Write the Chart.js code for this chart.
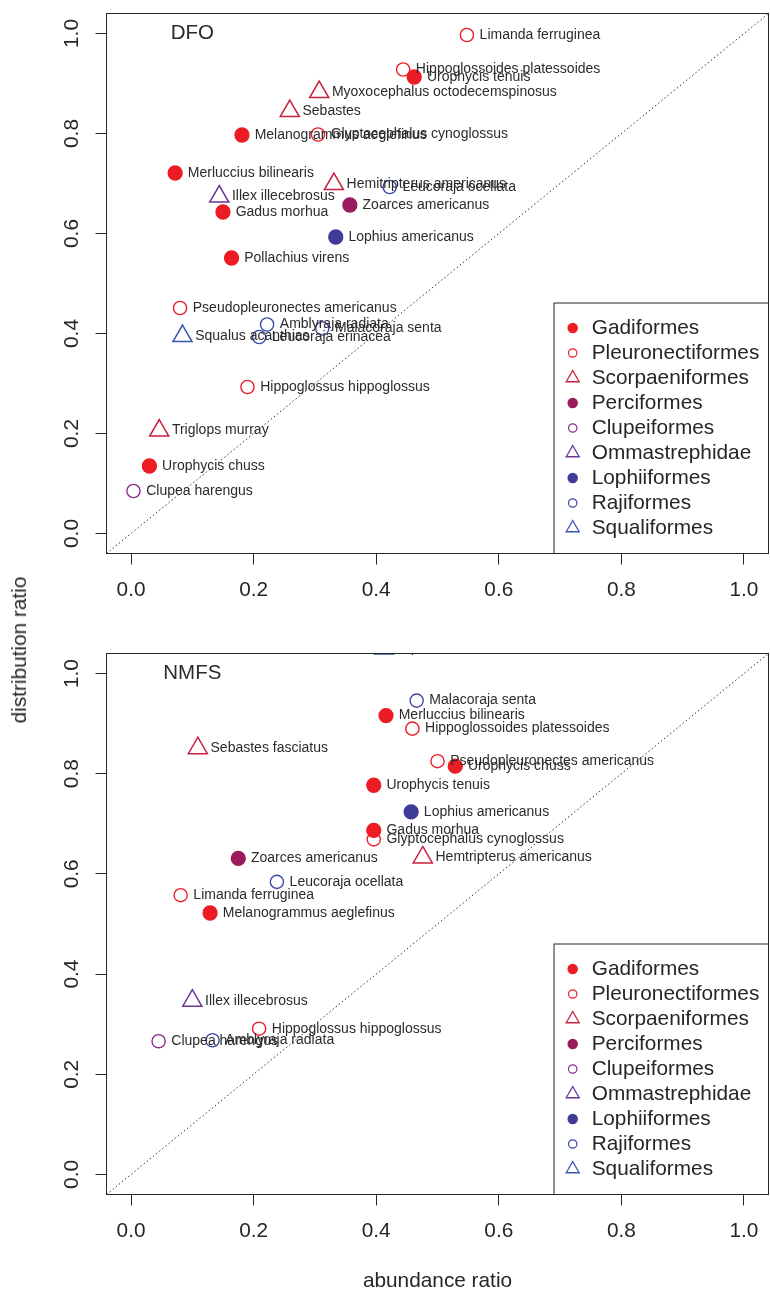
<!DOCTYPE html>
<html>
<head>
<meta charset="utf-8">
<script src="https://cdn.jsdelivr.net/npm/chart.js@4.4.1/dist/chart.umd.min.js"></script>
<style>
html, body { margin: 0; padding: 0; background: #fff; }
#wrap { position: relative; width: 770px; height: 1292px; overflow: hidden;
        font-family: "Liberation Sans", Arial, Helvetica, sans-serif; color: #262626; }
canvas { position: absolute; left: 0; }
#c1 { top: 0; }
#c2 { top: 646px; }
.ylab { position: absolute; left: 19px; top: 650px; transform: translate(-50%, -50%) rotate(-90deg);
        font-size: 20.8px; white-space: nowrap; }
.xlab { position: absolute; left: 437.5px; top: 1280px; transform: translate(-50%, -50%);
        font-size: 20.8px; white-space: nowrap; }
</style>
</head>
<body>
<div id="wrap">
  <canvas id="c1" width="770" height="646"></canvas>
  <canvas id="c2" width="770" height="646"></canvas>
  <div class="ylab">distribution ratio</div>
  <div class="xlab">abundance ratio</div>
</div>
<script>
// ---- taxonomic orders ----
const orders = ['Gadiformes', 'Pleuronectiformes', 'Scorpaeniformes', 'Perciformes', 'Clupeiformes',
                'Ommastrephidae', 'Lophiiformes', 'Rajiformes', 'Squaliformes'];

// ---- axes ----
const axisLimits = [-0.04, 1.04];
const tickValues = [0.0, 0.2, 0.4, 0.6, 0.8, 1.0];

// ---- DFO survey ----
const dfoSpecies = ['Limanda ferruginea', 'Hippoglossoides platessoides', 'Urophycis tenuis',
  'Myoxocephalus octodecemspinosus', 'Sebastes', 'Melanogrammus aeglefinus', 'Glyptocephalus cynoglossus',
  'Merluccius bilinearis', 'Hemitripterus americanus', 'Leucoraja ocellata', 'Illex illecebrosus',
  'Zoarces americanus', 'Gadus morhua', 'Lophius americanus', 'Pollachius virens',
  'Pseudopleuronectes americanus', 'Amblyraja radiata', 'Malacoraja senta', 'Squalus acanthias',
  'Leucoraja erinacea', 'Hippoglossus hippoglossus', 'Triglops murray', 'Urophycis chuss', 'Clupea harengus'];
const dfoOrder = ['Pleuronectiformes', 'Pleuronectiformes', 'Gadiformes', 'Scorpaeniformes', 'Scorpaeniformes',
  'Gadiformes', 'Pleuronectiformes', 'Gadiformes', 'Scorpaeniformes', 'Rajiformes', 'Ommastrephidae',
  'Perciformes', 'Gadiformes', 'Lophiiformes', 'Gadiformes', 'Pleuronectiformes', 'Rajiformes', 'Rajiformes',
  'Squaliformes', 'Rajiformes', 'Pleuronectiformes', 'Scorpaeniformes', 'Gadiformes', 'Clupeiformes'];
const dfoAbundance = [0.548, 0.444, 0.462, 0.307, 0.259, 0.181, 0.305, 0.072, 0.331, 0.422, 0.144,
  0.357, 0.150, 0.334, 0.164, 0.080, 0.222, 0.312, 0.084, 0.209, 0.190, 0.046, 0.030, 0.004];
const dfoDistribution = [0.997, 0.928, 0.913, 0.883, 0.845, 0.797, 0.798, 0.721, 0.699, 0.693, 0.674,
  0.657, 0.643, 0.593, 0.551, 0.451, 0.418, 0.410, 0.395, 0.393, 0.293, 0.206, 0.135, 0.085];

// ---- NMFS survey ----
const nmfsSpecies = ['Squalus acanthias', 'Malacoraja senta', 'Merluccius bilinearis',
  'Hippoglossoides platessoides', 'Sebastes fasciatus', 'Pseudopleuronectes americanus', 'Urophycis chuss',
  'Urophycis tenuis', 'Lophius americanus', 'Gadus morhua', 'Glyptocephalus cynoglossus',
  'Hemtripterus americanus', 'Zoarces americanus', 'Leucoraja ocellata', 'Limanda ferruginea',
  'Melanogrammus aeglefinus', 'Illex illecebrosus', 'Hippoglossus hippoglossus', 'Amblyraja radiata',
  'Clupea harengus'];
const nmfsOrder = ['Squaliformes', 'Rajiformes', 'Gadiformes', 'Pleuronectiformes', 'Scorpaeniformes',
  'Pleuronectiformes', 'Gadiformes', 'Gadiformes', 'Lophiiformes', 'Gadiformes', 'Pleuronectiformes',
  'Scorpaeniformes', 'Perciformes', 'Rajiformes', 'Pleuronectiformes', 'Gadiformes', 'Ommastrephidae',
  'Pleuronectiformes', 'Rajiformes', 'Clupeiformes'];
const nmfsAbundance = [0.413, 0.466, 0.416, 0.459, 0.109, 0.500, 0.529, 0.396, 0.457, 0.396, 0.396,
  0.476, 0.175, 0.238, 0.081, 0.129, 0.100, 0.209, 0.133, 0.045];
const nmfsDistribution = [1.05, 0.946, 0.916, 0.890, 0.851, 0.825, 0.815, 0.777, 0.724, 0.687, 0.669,
  0.633, 0.631, 0.584, 0.5575, 0.522, 0.347, 0.291, 0.268, 0.266];

// ---- styling per order ----
const orderColors = ['#ec1c24', '#ea1f2b', '#c8203f', '#9a1c5d', '#8a2d8c', '#6a3597', '#3f3b96', '#3a4aa6', '#3856ae'];
const orderShapes = ['dot', 'ring', 'triangle', 'dot', 'ring', 'triangle', 'dot', 'ring', 'triangle'];

const FONT = '"Liberation Sans", Arial, Helvetica, sans-serif';
const INK = '#262626';

function markStyle(shape, color, big) {
  if (shape === 'triangle') return { pointStyle: 'triangle', radius: big ? 11 : 7.5, borderWidth: big ? 1.5 : 1.3, fill: 'rgba(0,0,0,0)', color };
  if (shape === 'dot') return { pointStyle: 'circle', radius: big ? 7 : 4.6, borderWidth: 1.3, fill: color, color };
  return { pointStyle: 'circle', radius: big ? 6.6 : 4.2, borderWidth: big ? 1.4 : 1.2, fill: 'rgba(0,0,0,0)', color };
}

// species names next to each point, plus the panel title
const labelPlugin = {
  id: 'speciesLabels',
  afterDatasetsDraw(chart, args, opts) {
    const { ctx, chartArea: a } = chart;
    ctx.save();
    ctx.beginPath();
    ctx.rect(a.left, a.top, a.right - a.left, a.bottom - a.top);
    ctx.clip();
    ctx.font = '14px ' + FONT;
    ctx.fillStyle = '#2b2b2b';
    ctx.textBaseline = 'middle';
    ctx.textAlign = 'left';
    chart.data.datasets.forEach((ds, di) => {
      if (!ds.names) return;
      const meta = chart.getDatasetMeta(di);
      meta.data.forEach((pt, j) => ctx.fillText(ds.names[j], pt.x + 12.7, pt.y));
    });
    ctx.font = '20.5px ' + FONT;
    ctx.textAlign = 'center';
    ctx.fillText(opts.title, chart.scales.x.getPixelForValue(0.1), chart.scales.y.getPixelForValue(1.0));
    ctx.restore();
  }
};

// plot frame and the order legend in the lower right corner
const framePlugin = {
  id: 'frameLegend',
  afterDraw(chart) {
    const { ctx, chartArea: a } = chart;
    ctx.save();
    ctx.strokeStyle = INK;
    ctx.lineWidth = 1;
    ctx.strokeRect(a.left, a.top, a.right - a.left, a.bottom - a.top);

    const boxW = 214.5, boxH = 250.5;
    const left = a.right - boxW, top = a.bottom - boxH;
    ctx.fillStyle = '#fff';
    ctx.fillRect(left, top, boxW, boxH);
    ctx.strokeRect(left, top, boxW, boxH);
    ctx.font = '20.8px ' + FONT;
    ctx.textBaseline = 'middle';
    ctx.textAlign = 'left';
    orders.forEach((name, i) => {
      const y = top + 25 + i * 25;
      const st = markStyle(orderShapes[i], orderColors[i], false);
      ctx.fillStyle = st.fill;
      ctx.strokeStyle = st.color;
      ctx.lineWidth = st.borderWidth;
      Chart.helpers.drawPoint(ctx, { pointStyle: st.pointStyle, radius: st.radius, borderWidth: st.borderWidth, rotation: 0 }, left + 18.7, y);
      ctx.fillStyle = INK;
      ctx.fillText(name, left + 37.7, y);
    });
    ctx.restore();
  }
};

function makeChart(id, title, species, order, abundance, distribution, padTop, xAxisHeight) {
  const datasets = [];
  orders.forEach((o, k) => {
    const idx = [];
    order.forEach((v, i) => { if (v === o) idx.push(i); });
    if (!idx.length) return;
    const st = markStyle(orderShapes[k], orderColors[k], true);
    datasets.push({
      type: 'scatter',
      label: o,
      data: idx.map(i => ({ x: abundance[i], y: distribution[i] })),
      names: idx.map(i => species[i]),
      pointStyle: st.pointStyle,
      pointRadius: st.radius,
      pointHoverRadius: st.radius,
      pointBorderWidth: st.borderWidth,
      pointBackgroundColor: st.fill,
      pointBorderColor: st.color,
      clip: 0
    });
  });
  // 1:1 reference line
  datasets.push({
    type: 'line',
    label: '1:1',
    data: [{ x: axisLimits[0], y: axisLimits[0] }, { x: axisLimits[1], y: axisLimits[1] }],
    borderColor: '#333',
    borderWidth: 1,
    borderDash: [1.5, 2.5],
    pointRadius: 0,
    fill: false,
    clip: 0
  });

  const axisCommon = {
    type: 'linear',
    min: axisLimits[0],
    max: axisLimits[1],
    bounds: 'data',
    afterBuildTicks: s => { s.ticks = tickValues.map(v => ({ value: v })); },
    grid: { drawOnChartArea: false, drawTicks: true, tickLength: 11, color: INK, lineWidth: 1 },
    border: { display: true, color: INK, width: 1 }
  };

  return new Chart(document.getElementById(id), {
    data: { datasets },
    options: {
      responsive: false,
      animation: false,
      devicePixelRatio: 1,
      events: [],
      layout: { autoPadding: false, padding: { top: padTop, right: 1.5, left: 0, bottom: 0 } },
      plugins: {
        legend: { display: false },
        tooltip: { enabled: false },
        speciesLabels: { title }
      },
      scales: {
        x: Object.assign({}, axisCommon, {
          afterFit: s => { s.height = xAxisHeight; s.paddingLeft = 0; s.paddingRight = 0; },
          ticks: { autoSkip: false, maxRotation: 0, minRotation: 0, padding: 13.3, color: INK,
                   font: { family: FONT, size: 20.8 }, callback: v => Number(v).toFixed(1) }
        }),
        y: Object.assign({}, axisCommon, {
          afterFit: s => { s.width = 106.5; s.paddingTop = 0; s.paddingBottom = 0; },
          ticks: { autoSkip: false, minRotation: 90, maxRotation: 90, crossAlign: 'center', padding: 9,
                   color: INK, font: { family: FONT, size: 20.8 }, callback: v => Number(v).toFixed(1) }
        })
      }
    },
    plugins: [labelPlugin, framePlugin]
  });
}

makeChart('c1', 'DFO', dfoSpecies, dfoOrder, dfoAbundance, dfoDistribution, 13.5, 92.5);
makeChart('c2', 'NMFS', nmfsSpecies, nmfsOrder, nmfsAbundance, nmfsDistribution, 7.5, 97.5);
</script>
</body>
</html>
